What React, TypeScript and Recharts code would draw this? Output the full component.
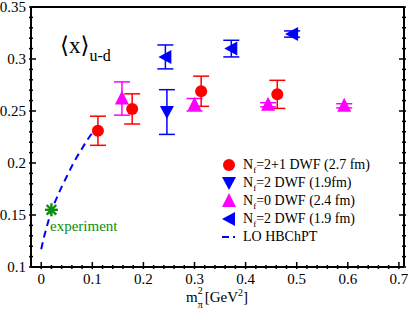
import React from 'react';
import {
  ComposedChart,
  Scatter,
  Line,
  XAxis,
  YAxis,
  ErrorBar,
} from 'recharts';

// N_f=2+1 DWF (2.7 fm)
const nf21 = [
  { x: 0.111, y: 0.231, err: 0.014 },
  { x: 0.178, y: 0.252, err: 0.0145 },
  { x: 0.313, y: 0.269, err: 0.0145 },
  { x: 0.462, y: 0.266, err: 0.0135 },
];
// N_f=2 DWF (1.9fm) down triangles
const nf2down = [{ x: 0.246, y: 0.249, err: 0.0215 }];
// N_f=0 DWF (2.4 fm)
const nf0 = [
  { x: 0.158, y: 0.262, err: 0.016 },
  { x: 0.3, y: 0.256, err: 0.006 },
  { x: 0.444, y: 0.256, err: 0.002 },
  { x: 0.593, y: 0.255, err: 0.002 },
];
// N_f=2 DWF (1.9 fm) left triangles
const nf2left = [
  { x: 0.243, y: 0.302, err: 0.0115 },
  { x: 0.372, y: 0.31, err: 0.008 },
  { x: 0.491, y: 0.324, err: 0.003 },
];
const experiment = [{ x: 0.02, y: 0.155 }];
// LO HBChPT curve
const hbchpt = [
  { x: 0.0, y: 0.117 },
  { x: 0.005, y: 0.128 },
  { x: 0.01, y: 0.137 },
  { x: 0.02, y: 0.154 },
  { x: 0.03, y: 0.166 },
  { x: 0.04, y: 0.177 },
  { x: 0.05, y: 0.187 },
  { x: 0.06, y: 0.197 },
  { x: 0.07, y: 0.206 },
  { x: 0.08, y: 0.214 },
  { x: 0.09, y: 0.222 },
  { x: 0.1, y: 0.229 },
];

const xTicks = Array.from({ length: 36 }, (_, i) => +(i * 0.02).toFixed(2));
const yTicks = Array.from({ length: 26 }, (_, i) => +(0.1 + i * 0.01).toFixed(2));
const isXMajor = (v: number) => Math.abs(v * 10 - Math.round(v * 10)) < 1e-6;
const isYMajor = (v: number) => Math.abs(v * 20 - Math.round(v * 20)) < 1e-6;

const RED = '#ff0000';
const BLUE = '#0000ff';
const MAGENTA = '#ff00ff';
const GREEN = '#0a8f0a';
const FONT = 'Liberation Serif, DejaVu Serif, serif';

const fmt = (v: number) => (v === 0 ? '0' : String(+v.toFixed(2)));

const BottomTick = ({ x, y, payload }: any) => {
  const major = isXMajor(payload.value);
  return (
    <g>
      <line x1={x} x2={x} y1={y} y2={y - (major ? 7 : 4)} stroke="#000" strokeWidth={1.5} />
      {major && (
        <text x={x} y={y + 15} textAnchor="middle" fontSize={15} fontFamily={FONT} fill="#000">
          {fmt(payload.value)}
        </text>
      )}
    </g>
  );
};
const TopTick = ({ x, y, payload }: any) => {
  const major = isXMajor(payload.value);
  return <line x1={x} x2={x} y1={y} y2={y + (major ? 7 : 4)} stroke="#000" strokeWidth={1.5} />;
};
const LeftTick = ({ x, y, payload }: any) => {
  const major = isYMajor(payload.value);
  return (
    <g>
      <line x1={x} x2={x + (major ? 7 : 4)} y1={y} y2={y} stroke="#000" strokeWidth={1.5} />
      {major && (
        <text x={x - 3} y={y + 5} textAnchor="end" fontSize={15} fontFamily={FONT} fill="#000">
          {fmt(payload.value)}
        </text>
      )}
    </g>
  );
};
const RightTick = ({ x, y, payload }: any) => {
  const major = isYMajor(payload.value);
  return <line x1={x} x2={x - (major ? 7 : 4)} y1={y} y2={y} stroke="#000" strokeWidth={1.5} />;
};

const circle = ({ cx, cy }: any) => <circle cx={cx} cy={cy} r={6} fill={RED} />;
const downTri = ({ cx, cy }: any) => (
  <polygon points={`${cx - 7},${cy - 6} ${cx + 7},${cy - 6} ${cx},${cy + 7}`} fill={BLUE} />
);
const upTri = ({ cx, cy }: any) => (
  <polygon points={`${cx},${cy - 8} ${cx - 7},${cy + 6} ${cx + 7},${cy + 6}`} fill={MAGENTA} />
);
const leftTri = ({ cx, cy }: any) => (
  <polygon points={`${cx - 7},${cy} ${cx + 6},${cy - 7} ${cx + 6},${cy + 7}`} fill={BLUE} />
);
const star = ({ cx, cy }: any) => (
  <g stroke={GREEN} strokeWidth={2.4}>
    <line x1={cx - 6.5} x2={cx + 6.5} y1={cy} y2={cy} />
    <line x1={cx} x2={cx} y1={cy - 6.5} y2={cy + 6.5} />
    <line x1={cx - 4.8} x2={cx + 4.8} y1={cy - 4.8} y2={cy + 4.8} />
    <line x1={cx - 4.8} x2={cx + 4.8} y1={cy + 4.8} y2={cy - 4.8} />
  </g>
);

const legendItems = [
  { label: '=2+1 DWF (2.7 fm)', icon: 'circle' },
  { label: '=2 DWF (1.9fm)', icon: 'down' },
  { label: '=0 DWF (2.4 fm)', icon: 'up' },
  { label: '=2 DWF (1.9 fm)', icon: 'left' },
];

const LegendIcon = ({ icon }: { icon: string }) => (
  <svg width={16} height={16} style={{ display: 'block' }}>
    {icon === 'circle' && circle({ cx: 8, cy: 8 })}
    {icon === 'down' && downTri({ cx: 8, cy: 8 })}
    {icon === 'up' && upTri({ cx: 8, cy: 8 })}
    {icon === 'left' && leftTri({ cx: 8, cy: 8 })}
    {icon === 'line' && (
      <g stroke={BLUE} strokeWidth={2}>
        <line x1={1} x2={8} y1={8} y2={8} />
        <line x1={12} x2={14} y1={8} y2={8} />
      </g>
    )}
  </svg>
);

export default function App() {
  return (
    <div style={{ position: 'absolute', left: 0, top: 0, width: 415, height: 311, background: '#fff', fontFamily: FONT }}>
      <ComposedChart width={415} height={311} margin={{ top: 0, right: 0, bottom: 0, left: 0 }}>
        <XAxis
          dataKey="x"
          type="number"
          domain={[-0.02, 0.71]}
          ticks={xTicks}
          interval={0}
          tick={<BottomTick />}
          tickLine={false}
          tickSize={0}
          axisLine={{ stroke: '#000', strokeWidth: 2 }}
          height={44}
          allowDataOverflow
        />
        <XAxis
          xAxisId="t"
          orientation="top"
          type="number"
          domain={[-0.02, 0.71]}
          ticks={xTicks}
          interval={0}
          tick={<TopTick />}
          tickLine={false}
          tickSize={0}
          axisLine={{ stroke: '#000', strokeWidth: 2 }}
          height={7}
          allowDataOverflow
        />
        <YAxis
          dataKey="y"
          type="number"
          domain={[0.1, 0.35]}
          ticks={yTicks}
          interval={0}
          tick={<LeftTick />}
          tickLine={false}
          tickSize={0}
          axisLine={{ stroke: '#000', strokeWidth: 2 }}
          width={31}
          allowDataOverflow
        />
        <YAxis
          yAxisId="r"
          orientation="right"
          type="number"
          domain={[0.1, 0.35]}
          ticks={yTicks}
          interval={0}
          tick={<RightTick />}
          tickLine={false}
          tickSize={0}
          axisLine={{ stroke: '#000', strokeWidth: 2 }}
          width={11}
          allowDataOverflow
        />
        <Line
          data={hbchpt}
          dataKey="y"
          type="monotone"
          stroke={BLUE}
          strokeWidth={2}
          strokeDasharray="7 5"
          dot={false}
          isAnimationActive={false}
        />
        <Scatter data={nf2left} dataKey="y" shape={leftTri} isAnimationActive={false}>
          <ErrorBar dataKey="err" direction="y" width={8} stroke={BLUE} strokeWidth={1.5} />
        </Scatter>
        <Scatter data={nf2down} dataKey="y" shape={downTri} isAnimationActive={false}>
          <ErrorBar dataKey="err" direction="y" width={8} stroke={BLUE} strokeWidth={1.5} />
        </Scatter>
        <Scatter data={nf0} dataKey="y" shape={upTri} isAnimationActive={false}>
          <ErrorBar dataKey="err" direction="y" width={8} stroke={MAGENTA} strokeWidth={1.5} />
        </Scatter>
        <Scatter data={nf21} dataKey="y" shape={circle} isAnimationActive={false}>
          <ErrorBar dataKey="err" direction="y" width={8} stroke={RED} strokeWidth={1.5} />
        </Scatter>
        <Scatter data={experiment} dataKey="y" shape={star} isAnimationActive={false} />
      </ComposedChart>

      <div style={{ position: 'absolute', left: 60, top: 33, fontSize: 23, lineHeight: '26px', whiteSpace: 'nowrap' }}>
        ⟨x⟩<span style={{ fontSize: 16, position: 'relative', top: 8 }}>u-d</span>
      </div>
      <div style={{ position: 'absolute', left: 50, top: 217, fontSize: 15, lineHeight: '18px', color: GREEN, whiteSpace: 'nowrap' }}>
        experiment
      </div>
      <div style={{ position: 'absolute', left: 186, top: 288, fontSize: 15, lineHeight: '18px', whiteSpace: 'nowrap' }}>
        m
        <span style={{ position: 'relative', display: 'inline-block', width: 7, height: 10 }}>
          <span style={{ position: 'absolute', left: 0, top: -6, fontSize: 10, lineHeight: '9px' }}>2</span>
          <span style={{ position: 'absolute', left: 0, top: 8, fontSize: 10, lineHeight: '9px' }}>π</span>
        </span>
        [GeV<span style={{ fontSize: 10, position: 'relative', top: -6 }}>2</span>]
      </div>

      <div style={{ position: 'absolute', left: 221, top: 156, fontSize: 14 }}>
        {legendItems.map((it) => (
          <div key={it.label} style={{ display: 'flex', alignItems: 'center', height: 18, whiteSpace: 'nowrap' }}>
            <LegendIcon icon={it.icon} />
            <span style={{ marginLeft: 6 }}>
              N<span style={{ fontSize: 9, position: 'relative', top: 4 }}>f</span>
              {it.label}
            </span>
          </div>
        ))}
        <div style={{ display: 'flex', alignItems: 'center', height: 18, whiteSpace: 'nowrap' }}>
          <LegendIcon icon="line" />
          <span style={{ marginLeft: 6 }}>LO HBChPT</span>
        </div>
      </div>
    </div>
  );
}
